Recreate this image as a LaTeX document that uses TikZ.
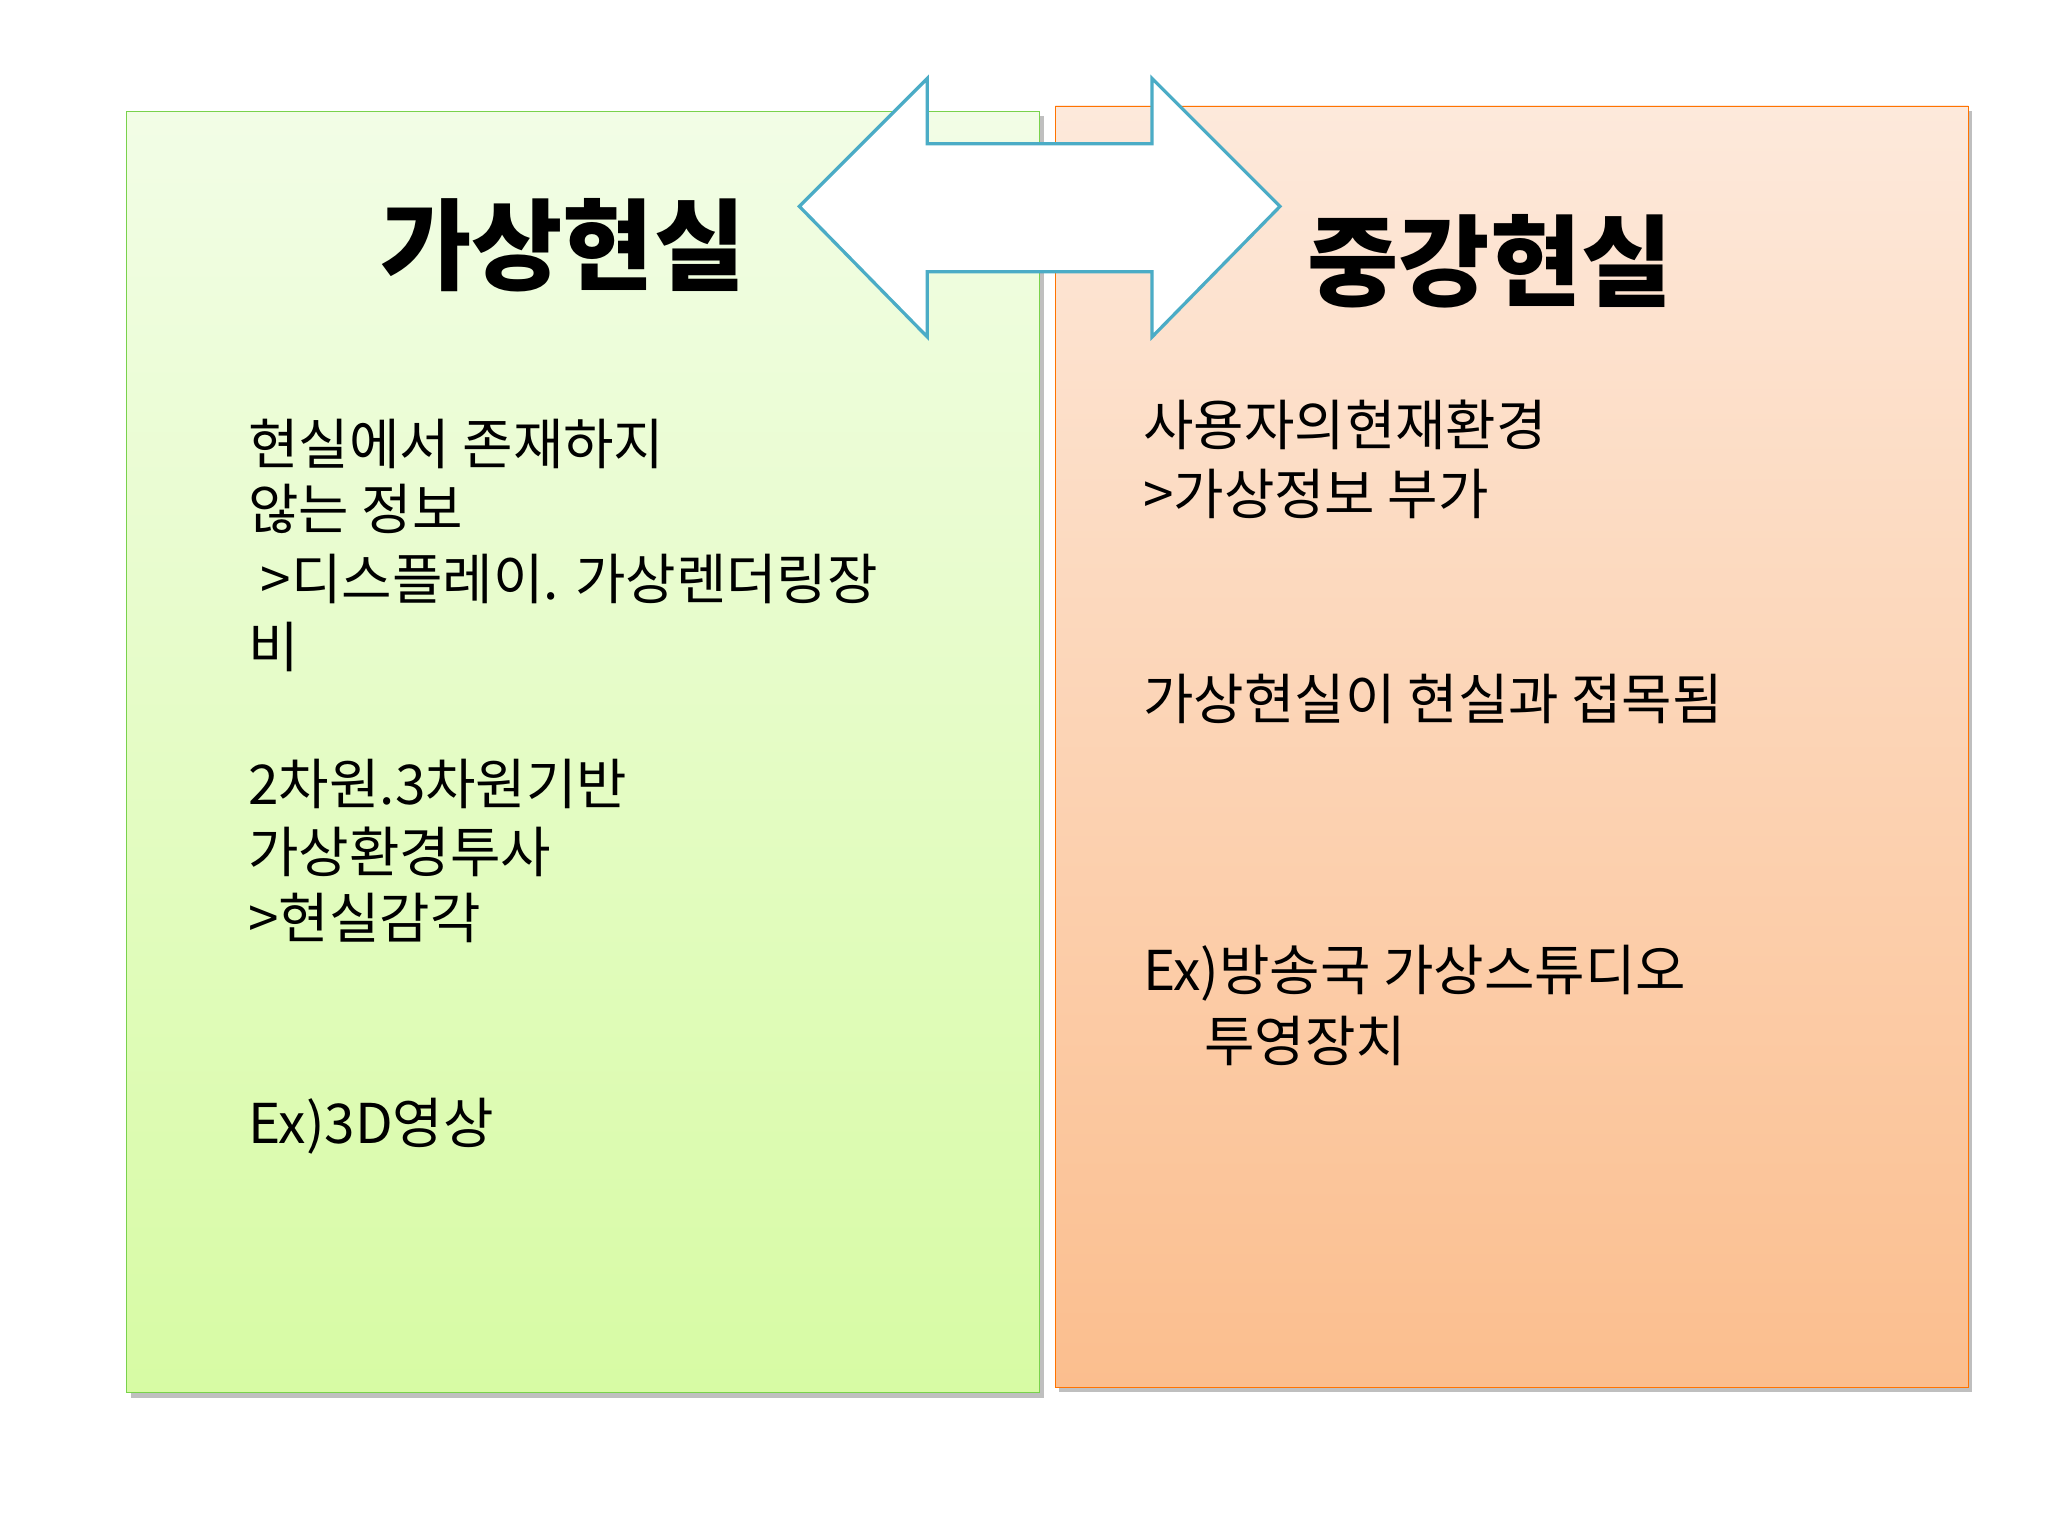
\documentclass[tikz,border=0pt]{standalone}
\usepackage{fontspec}
\newfontfamily\kr{Noto Sans CJK KR}
\tikzset{body/.style={anchor=west,inner sep=0pt,font=\kr\fontsize{42}{50}\selectfont},
title/.style={inner sep=0pt,font=\kr\bfseries\fontsize{76}{80}\selectfont}}
\definecolor{gtop}{HTML}{F2FDE6}\definecolor{gbot}{HTML}{D7FBA4}
\definecolor{otop}{HTML}{FDE9DB}\definecolor{obot}{HTML}{FBBE8E}
\definecolor{arrowc}{HTML}{4BACC6}
\begin{document}
\begin{tikzpicture}[x=1pt,y=-1pt]
\useasboundingbox (0,0) rectangle (1568,1176);
\fill[black!25] (100,89) rectangle (799,1070);
\fill[black!25] (811,85) rectangle (1510,1066);
\shade[top color=gtop,bottom color=gbot,draw=green!50!olive!70] (97,85) rectangle (796,1066);
\shade[top color=otop,bottom color=obot,draw=orange!90!red] (808,81) rectangle (1507,1062);
\draw[arrowc,line width=2.5pt,fill=white,line join=miter] (612,158) -- (710,60) -- (710,110) -- (882,110) -- (882,60) -- (980,158) -- (882,258) -- (882,208) -- (710,208) -- (710,258) -- cycle;
\node[title] (t1) at (431,188) {가상현실};
\node[title] (t2) at (1141,200) {중강현실};
\node[body] (l1) at (190,340) {현실에서 존재하지};
\node[body] (l2) at (190,390) {않는 정보};
\node[body] (l3) at (190,443) {\ >디스플레이. 가상렌더링장};
\node[body] (l4) at (190,495) {비};
\node[body] (l5) at (190,600) {2차원.3차원기반};
\node[body] (l6) at (190,652) {가상환경투사};
\node[body] (l7) at (190,703) {>현실감각};
\node[body] (l8) at (190,862) {Ex)3D영상};
\node[body] (r1) at (875,325) {사용자의현재환경};
\node[body] (r2) at (875,378) {>가상정보 부가};
\node[body] (r3) at (875,535) {가상현실이 현실과 접목됨};
\node[body] (r4) at (875,745) {Ex)방송국 가상스튜디오};
\node[body] (r5) at (922,797) {투영장치};
\end{tikzpicture}
\end{document}
